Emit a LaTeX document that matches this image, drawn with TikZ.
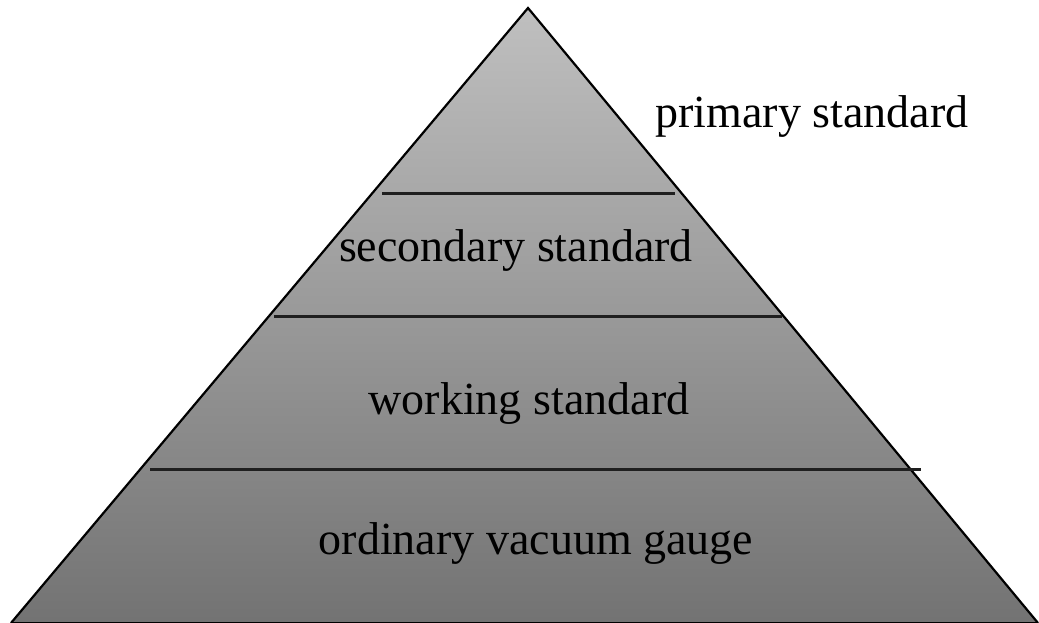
\documentclass[tikz,border=0pt]{standalone}
\usepackage{fontspec}
\setmainfont{Liberation Serif}
\begin{document}
\begin{tikzpicture}[x=1pt,y=1pt,
  lbl/.style={font=\fontsize{46}{52}\selectfont, anchor=base, inner sep=0pt, text=black},
  sep/.style={line width=3pt, draw=black!88}]
\useasboundingbox (0,0) rectangle (1039,623);
\coordinate (apex) at (528,615);
\coordinate (bl) at (11,0);
\coordinate (br) at (1038,0);
\shade[top color=black!25, bottom color=black!55] (apex) -- (br) -- (bl) -- cycle;
\draw[line width=2.2pt, line join=miter] (bl) -- (apex) -- (br);
\draw[line width=1.5pt] (bl) -- (br);
\coordinate (a1) at (382,429);
\coordinate (b1) at (675,429);
\coordinate (a2) at (274,306);
\coordinate (b2) at (782,306);
\coordinate (a3) at (150,153);
\coordinate (b3) at (921,153);
\draw[sep] (a1) -- (b1);
\draw[sep] (a2) -- (b2);
\draw[sep] (a3) -- (b3);
\node[lbl] (p) at (812,495) {primary standard};
\node[lbl] (s) at (516,361) {secondary standard};
\node[lbl] (w) at (529,208) {working standard};
\node[lbl] (o) at (536,68) {ordinary vacuum gauge};
\end{tikzpicture}
\end{document}
